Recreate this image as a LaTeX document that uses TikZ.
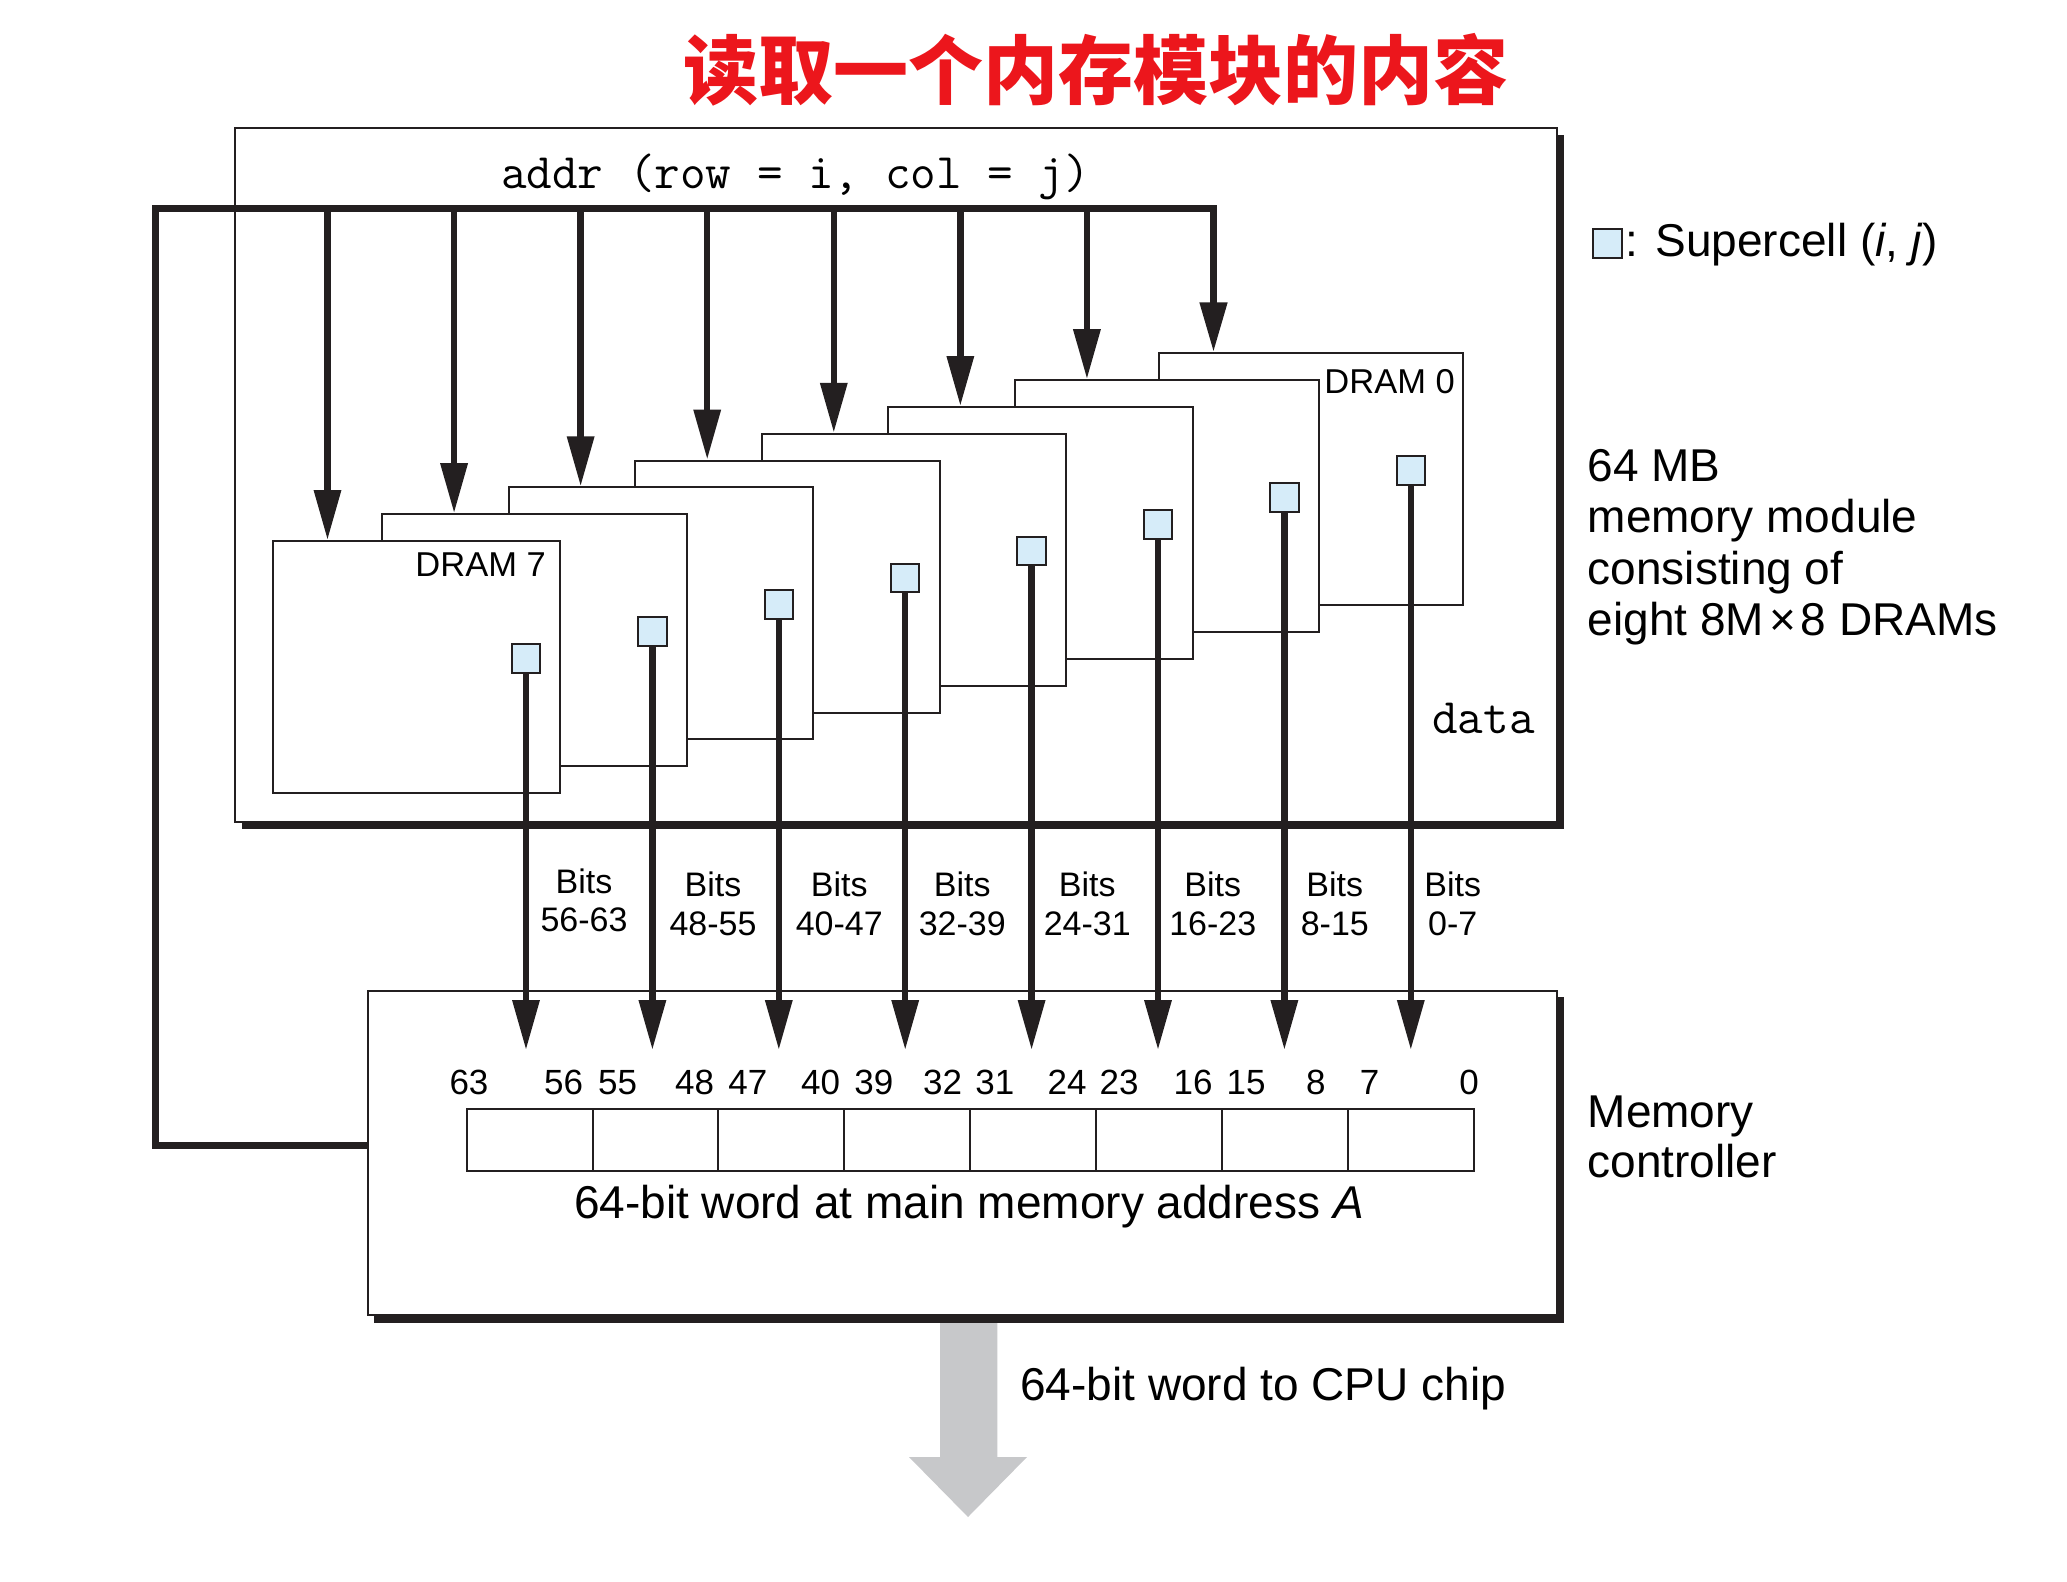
\documentclass[tikz,border=0pt]{standalone}
\usepackage{fontspec}
\setmainfont{Liberation Sans}
\newfontfamily\cjk{Noto Sans CJK SC}
\usetikzlibrary{arrows.meta}
\definecolor{ink}{HTML}{231F20}
\definecolor{cellblue}{RGB}{214,236,249}
\definecolor{arrowgray}{RGB}{199,200,202}
\definecolor{titlered}{RGB}{236,22,28}
\begin{document}
\begin{tikzpicture}[x=1pt,y=-1pt,
  boxline/.style={draw=ink, line width=2pt, fill=white, inner sep=0pt, anchor=north west},
  shadowline/.style={draw=ink, line width=8.5pt, line join=miter},
  dram/.style={draw=ink, line width=2pt, fill=white, minimum height=252pt, inner sep=0pt, anchor=north west},
  scell/.style={draw=ink, line width=2pt, fill=cellblue, minimum size=28.5pt, inner sep=0pt, anchor=north},
  sig/.style={draw=ink, line width=6.5pt, -{Triangle[length=50pt,width=26pt]}},
  bus/.style={draw=ink, line width=7.5pt, line join=miter, -{Triangle[length=50pt,width=26pt]}},
  lbl/.style={inner sep=0pt, font=\fontsize{46}{51.5}\selectfont, anchor=base west},
  bits/.style={inner sep=0pt, font=\fontsize{34}{38}\selectfont, anchor=base},
  num/.style={inner sep=0pt, font=\fontsize{35}{40}\selectfont, anchor=base},
  dlabel/.style={inner sep=0pt, font=\fontsize{34.5}{38}\selectfont, anchor=base east},
  ttlbl/.style={inner sep=0pt, font=\fontsize{49.7}{54}\selectfont\ttfamily, anchor=base west},
  reg/.style={draw=ink, line width=2pt, minimum width=125.84pt, minimum height=62pt, inner sep=0pt, anchor=north west},
]
\useasboundingbox[fill=white] (0,0) rectangle (2067,1582);

% title
\node[font=\cjk\bfseries\fontsize{75}{82}\selectfont, text=titlered, anchor=base, inner sep=0pt] (title) at (1096,98) {读取一个内存模块的内容};

% memory module box
\node[boxline, minimum width=1322pt, minimum height=694pt] (module) at (234,127) {};
\draw[shadowline] (1560,135) -- (1560,825) -- (242,825);

% DRAM chips (back to front)
\foreach \k/\x/\y/\w in {0/1157.7/352.4/304.5, 1/1013.65/379.2/304.5, 2/887.2/406/304.5,
  3/760.75/432.8/304.5, 4/634.3/459.6/304.5, 5/507.85/486.4/304.5, 6/381.4/513.2/304.5, 7/272/540/287}
  \node[dram, minimum width=\w pt] (d\k) at (\x,\y) {};

\node[dlabel] (l0) at (1455,393.3) {DRAM 0};
\node[dlabel] (l7) at (546,576.7) {DRAM 7};

% supercells
\foreach \k in {0,...,7}
  \node[scell] (c\k) at ({526+126.4*(7-\k)},{643-26.8*(7-\k)}) {};

% texts in module
\node[ttlbl] (addr) at (501,188.3) {addr (row = i, col = j)};
\node[ttlbl] (data) at (1432,733.3) {data};

% gray output arrow
\fill[arrowgray] (940,1322) -- (997.3,1322) -- (997.3,1457) -- (1027,1457) -- (968,1517)
  -- (909,1457) -- (940,1457) -- cycle;

% memory controller
\node[boxline, minimum width=1189.5pt, minimum height=324pt] (mc) at (366.5,990) {};
\draw[shadowline] (1560,997) -- (1560,1319) -- (374,1319);

% register
\foreach \i in {0,...,7}
  \node[reg] (r\i) at ({465.8+125.84*\i},1108) {};
\foreach \t/\x in {63/469,56/563.7,55/617.6,48/694.7,47/747.8,40/820.7,39/873.8,32/942.6,
  31/994.9,24/1067,23/1119,16/1193,15/1246,8/1315.8,7/1369.6,0/1469}
  \node[num] (n\t) at (\x,1094) {\t};
\node[inner sep=0pt, font=\fontsize{46}{51.5}\selectfont, anchor=base] (word) at (969,1218.3)
  {64-bit word at main memory address \textit{A}};

% address bus
\coordinate (busl) at (155.5,1145.5);
\coordinate (a0) at (1213.5,208.7);
\draw[bus] (mc.west |- busl) -- (busl) -- (busl |- a0) -- (a0) -- (a0 |- d0.north);
\foreach \j/\k in {0/7,1/6,2/5,3/4,4/3,5/2,6/1} {
  \coordinate (a\k) at ({327.5+126.57*\j},208.7);
  \draw[sig] (a\k) -- (a\k |- d\k.north);
}

% data lines
\coordinate (tipy) at (0,1050);
\foreach \k in {0,...,7}
  \draw[sig] (c\k.south) -- (c\k.south |- tipy);

% bits labels
\node[bits] (b7a) at (584,893.3) {Bits};
\node[bits] (b7b) at (584,931.7) {56-63};
\foreach \k/\x/\r in {6/713/48-55, 5/839.3/40-47, 4/962.3/32-39, 3/1087.3/24-31,
  2/1212.8/16-23, 1/1334.8/8-15, 0/1452.8/0-7} {
  \node[bits] (b\k a) at (\x,896) {Bits};
  \node[bits] (b\k b) at (\x,935) {\r};
}

% legend and side texts
\node[scell, anchor=north west, minimum size=29pt] (legcell) at (1591.7,227.5) {};
\node[lbl] (legtext) at (1625.5,256) {: Supercell (\textit{i}, \textit{j})};
\node[lbl] (m1) at (1587.5,481) {64 MB};
\node[lbl] (m2) at (1587.5,532.5) {memory module};
\node[lbl] (m3) at (1587.5,584) {consisting of};
\node[lbl] (m4) at (1587.5,635.5) {eight 8M\kern5pt×\kern5pt8 DRAMs};
\node[lbl] (mc1) at (1587.5,1127) {Memory};
\node[lbl] (mc2) at (1587.5,1177) {controller};
\node[lbl] (cpu) at (1020,1400.5) {64-bit word to CPU chip};
\end{tikzpicture}
\end{document}
